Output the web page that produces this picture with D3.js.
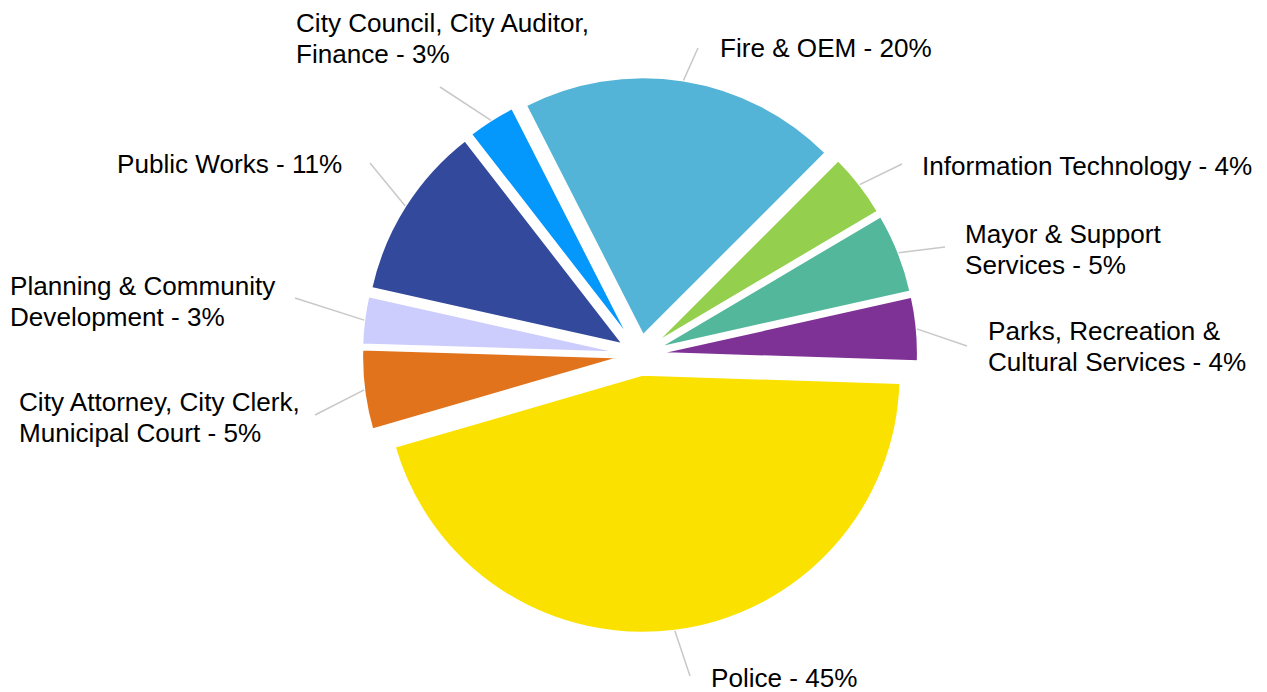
<!DOCTYPE html>
<html>
<head>
<meta charset="utf-8">
<script src="https://cdn.jsdelivr.net/npm/d3@7/dist/d3.min.js"></script>
<style>
  html, body { margin: 0; padding: 0; background: #ffffff; }
  svg { display: block; }
  text { font-family: "Liberation Sans", Arial, Helvetica, sans-serif; font-size: 26.1px; fill: #000; }
</style>
</head>
<body>
<svg id="chart" width="1267" height="692"></svg>
<script>
// Department budget shares (percent)
const departments = [
  "Fire & OEM",
  "Information Technology",
  "Mayor & Support Services",
  "Parks, Recreation & Cultural Services",
  "Police",
  "City Attorney, City Clerk, Municipal Court",
  "Planning & Community Development",
  "Public Works",
  "City Council, City Auditor, Finance"
];
const shares = [20, 4, 5, 4, 45, 5, 3, 11, 3];

// Label text lines for each department
const labelLines = [
  ["Fire & OEM - 20%"],
  ["Information Technology - 4%"],
  ["Mayor & Support", "Services - 5%"],
  ["Parks, Recreation &", "Cultural Services - 4%"],
  ["Police - 45%"],
  ["City Attorney, City Clerk,", "Municipal Court - 5%"],
  ["Planning & Community", "Development - 3%"],
  ["Public Works - 11%"],
  ["City Council, City Auditor,", "Finance - 3%"]
];

const colors = ["#53b4d7", "#94d04e", "#52b79b", "#7f3295", "#fae100",
                "#e0731c", "#ccccfd", "#33499c", "#0497fc"];

// Layout: label anchor (x, first baseline) and leader-line end point
const labelPos = [
  { x: 720, y: 57,  lx: 698, ly: 48 },
  { x: 922, y: 175, lx: 902, ly: 164 },
  { x: 965, y: 243, lx: 945, ly: 247 },
  { x: 988, y: 340, lx: 967, ly: 346 },
  { x: 711, y: 687, lx: 690, ly: 676 },
  { x: 19,  y: 411, lx: 315, ly: 415 },
  { x: 10,  y: 295, lx: 295, ly: 298 },
  { x: 117, y: 173, lx: 370, ly: 163 },
  { x: 296, y: 32,  lx: 440, ly: 87 }
];

const cx = 640, cy = 355, radius = 258, explode = 20, lineHeight = 31;
const start = -27 * Math.PI / 180;

const svg = d3.select("#chart");
const g = svg.append("g").attr("transform", `translate(${cx},${cy})`);

const pie = d3.pie().sort(null).value(d => d)
  .startAngle(start).endAngle(start + 2 * Math.PI);
const arcs = pie(shares);
const arc = d3.arc().innerRadius(0).outerRadius(radius);

const mid = d => (d.startAngle + d.endAngle) / 2;
const offset = d => [explode * Math.sin(mid(d)), -explode * Math.cos(mid(d))];

g.selectAll("path.slice")
  .data(arcs)
  .join("path")
  .attr("class", "slice")
  .attr("d", arc)
  .attr("fill", (d, i) => colors[i])
  .attr("stroke", "#fff")
  .attr("stroke-width", 2)
  .attr("transform", d => `translate(${offset(d)[0]},${offset(d)[1]})`);

// Leader lines from each slice's outer edge to its label
g.selectAll("line.leader")
  .data(arcs)
  .join("line")
  .attr("class", "leader")
  .attr("x1", d => offset(d)[0] + radius * Math.sin(mid(d)))
  .attr("y1", d => offset(d)[1] - radius * Math.cos(mid(d)))
  .attr("x2", (d, i) => labelPos[i].lx - cx)
  .attr("y2", (d, i) => labelPos[i].ly - cy)
  .attr("stroke", "#c8c8c8")
  .attr("stroke-width", 1.5);

// Labels
const labels = svg.selectAll("text.label")
  .data(labelLines)
  .join("text")
  .attr("class", "label")
  .attr("x", (d, i) => labelPos[i].x)
  .attr("y", (d, i) => labelPos[i].y);

labels.selectAll("tspan")
  .data((d, i) => d.map(t => ({ t, i })))
  .join("tspan")
  .attr("x", d => labelPos[d.i].x)
  .attr("dy", (d, j) => j === 0 ? 0 : lineHeight)
  .text(d => d.t);
</script>
</body>
</html>
